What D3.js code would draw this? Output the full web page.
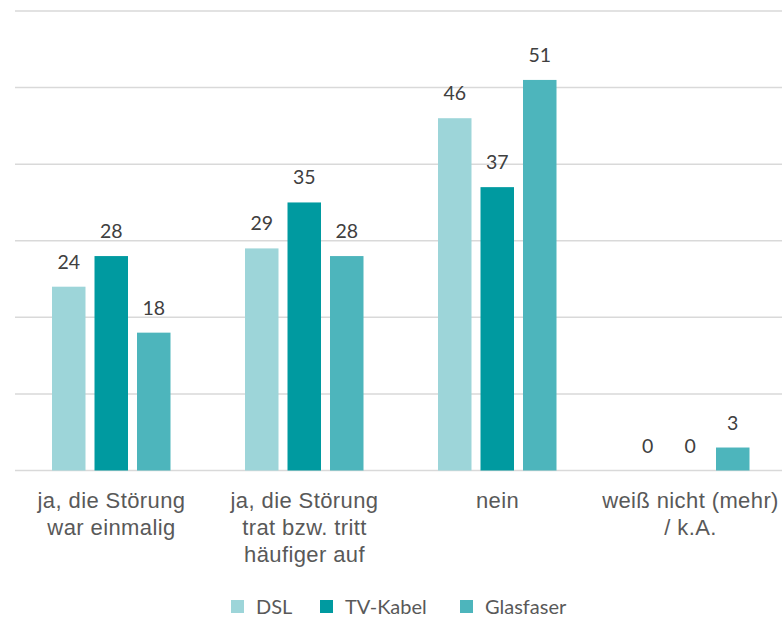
<!DOCTYPE html>
<html>
<head>
<meta charset="utf-8">
<script src="https://cdn.jsdelivr.net/npm/d3@7"></script>
<style>
  body { margin: 0; background: #fff; }
  svg { display: block; }
</style>
</head>
<body>
<svg id="chart" width="782" height="618"></svg>
<script>
var categories = [
    ['ja, die Störung', 'war einmalig'],
    ['ja, die Störung', 'trat bzw. tritt', 'häufiger auf'],
    ['nein'],
    ['weiß nicht (mehr)', '/ k.A.']
];
var seriesNames = ['DSL', 'TV-Kabel', 'Glasfaser'];
var dslValues = [24, 29, 46, 0];
var tvValues = [28, 35, 37, 0];
var glasValues = [18, 28, 51, 3];
var gridTicks = [0, 10, 20, 30, 40, 50, 60];

var colors = ['#9dd5d9', '#009aa0', '#4db5bc'];
var series = [dslValues, tvValues, glasValues];

var svg = d3.select('#chart');

var x = d3.scaleBand()
    .domain(d3.range(categories.length))
    .range([15, 787]);

var y = d3.scaleLinear()
    .domain([0, 60])
    .range([470.5, 11]);

// inner band for the three bars of one category
var xInner = d3.scaleBand()
    .domain(d3.range(seriesNames.length))
    .range([37, 155.5])
    .paddingInner(0.212)
    .paddingOuter(0);

// grid lines
svg.append('g')
    .selectAll('line')
    .data(gridTicks)
    .enter()
    .append('line')
    .attr('x1', 15)
    .attr('x2', 782)
    .attr('y1', function (d) { return y(d); })
    .attr('y2', function (d) { return y(d); })
    .style('stroke', '#d9d9d9')
    .style('stroke-width', 1.5);

var groups = svg.append('g')
    .selectAll('g')
    .data(categories)
    .enter()
    .append('g')
    .attr('transform', function (d, i) {
        return 'translate(' + x(i) + ',0)';
    });

groups.each(function (cat, ci) {
    var g = d3.select(this);
    series.forEach(function (values, si) {
        var v = values[ci];
        if (v > 0) {
            g.append('rect')
                .attr('x', xInner(si))
                .attr('width', xInner.bandwidth())
                .attr('y', y(v))
                .attr('height', y(0) - y(v))
                .style('fill', colors[si]);
        }
        g.append('text')
            .attr('x', xInner(si) + xInner.bandwidth() / 2)
            .attr('y', y(v) - 18)
            .style('font-family', 'Lato, "Open Sans", sans-serif')
            .style('font-size', '19.5px')
            .style('fill', '#404040')
            .style('text-anchor', 'middle')
            .text(v);
    });

    var label = g.append('text')
        .attr('x', x.bandwidth() / 2)
        .attr('y', 508)
        .style('font-family', '"Liberation Sans", Arial, sans-serif')
        .style('font-size', '22px')
        .style('letter-spacing', '0.4px')
        .style('fill', '#595959')
        .style('text-anchor', 'middle');
    cat.forEach(function (line, li) {
        label.append('tspan')
            .attr('x', x.bandwidth() / 2)
            .attr('dy', li === 0 ? 0 : 27)
            .text(line);
    });
});

// legend
var legendX = [231, 320, 460];
var legend = svg.append('g')
    .selectAll('g')
    .data(seriesNames)
    .enter()
    .append('g')
    .attr('transform', function (d, i) {
        return 'translate(' + legendX[i] + ',600)';
    });

legend.append('rect')
    .attr('width', 13)
    .attr('height', 13)
    .style('fill', function (d, i) { return colors[i]; });

legend.append('text')
    .attr('x', 25)
    .attr('y', 13.5)
    .style('font-family', 'Lato, "Open Sans", sans-serif')
    .style('font-size', '20px')
    .style('fill', '#595959')
    .text(function (d) { return d; });
</script>
</body>
</html>
